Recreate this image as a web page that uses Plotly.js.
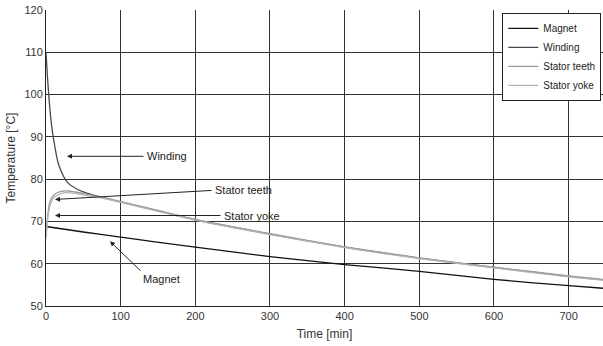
<!DOCTYPE html>
<html><head><meta charset="utf-8">
<script src="https://cdn.plot.ly/plotly-3.0.1.min.js"></script>
<style>html,body{margin:0;padding:0;background:#fff}#c{width:603px;height:346px}</style>
</head><body><div id="c"></div>
<script>
const tMagnet = [0, 50, 100, 200, 300, 400, 500, 600, 700, 746];
const magnet  = [68.8, 67.5, 66.3, 63.9, 61.7, 59.8, 58.2, 56.3, 54.8, 54.2];
const tWinding = [0, 2, 5, 8, 12, 16, 20, 25, 30, 40, 50, 70, 100, 150, 200, 300, 400, 500, 600, 700, 746];
const winding  = [110, 104, 97, 92, 87.5, 84, 82, 80.2, 79, 77.8, 77, 75.9, 74.6, 72.5, 70.4, 67.0, 63.9, 61.3, 59.1, 57.0, 56.2];
const tStator = [0, 2, 5, 10, 20, 30, 50, 75, 100, 150, 200, 300, 400, 500, 600, 700, 746];
const statorTeeth = [66.5, 71, 74.5, 76.2, 77.1, 77.2, 76.6, 75.7, 74.7, 72.6, 70.5, 67.1, 64.0, 61.4, 59.2, 57.1, 56.3];
const statorYoke  = [66.0, 70, 73.5, 75.5, 76.6, 76.8, 76.3, 75.5, 74.5, 72.4, 70.3, 66.9, 63.8, 61.2, 59.0, 56.9, 56.1];
const xTicks = [0, 100, 200, 300, 400, 500, 600, 700];
const yTicks = [50, 60, 70, 80, 90, 100, 110, 120];

const font = {family: 'Liberation Sans, Arial, sans-serif', size: 11, color: '#333'};
const mk = (x, y, name, color) => ({x, y, name, type: 'scatter', mode: 'lines',
  line: {color, width: 1.3, shape: 'spline', smoothing: 0.6}});
const traces = [
  mk(tMagnet, magnet, 'Magnet', '#111'),
  mk(tWinding, winding, 'Winding', '#4a4a4a'),
  mk(tStator, statorTeeth, 'Stator teeth', '#999'),
  mk(tStator, statorYoke, 'Stator yoke', '#b5b5b5')
];

function arrow(x, y, ax, ay) {
  return {x, y, ax, ay, xref: 'x', yref: 'y', axref: 'x', ayref: 'y', text: '',
    showarrow: true, arrowhead: 2, arrowsize: 1, arrowwidth: 1, arrowcolor: '#222', standoff: 0};
}
function label(x, y, text, anchor) {
  return {x, y, xref: 'x', yref: 'y', text, showarrow: false, xanchor: anchor || 'left',
    yanchor: 'middle', font: {family: font.family, size: 11, color: '#222'}};
}
const annotations = [
  arrow(28.1, 85.4, 132.6, 85.4), label(132.6, 85.4, 'Winding'),
  arrow(12.1, 75.2, 223.7, 77.35), label(223.7, 77.35, 'Stator teeth'),
  arrow(12.1, 71.4, 235.7, 71.4), label(235.7, 71.4, 'Stator yoke'),
  arrow(85.7, 65.3, 128.6, 58.0), label(155, 56.3, 'Magnet', 'center')
];

const layout = {
  width: 603, height: 346,
  margin: {l: 46, r: 0, t: 10, b: 40, autoexpand: false},
  paper_bgcolor: '#fff', plot_bgcolor: '#fff',
  font,
  showlegend: true,
  legend: {x: 0.997, y: 0.99, xanchor: 'right', yanchor: 'top', bgcolor: '#fff',
    bordercolor: '#222', borderwidth: 1, font: {family: font.family, size: 10, color: '#222'},
    tracegroupgap: 0, itemwidth: 30},
  xaxis: {range: [0, 746], tickvals: xTicks, ticktext: xTicks.map(String), showgrid: true,
    gridcolor: '#333', gridwidth: 1, zeroline: false, showline: true, linecolor: '#222', linewidth: 1,
    ticks: '', automargin: false, tickfont: font, title: {text: 'Time [min]', font: {family: font.family, size: 12, color: '#333'}, standoff: 8}},
  yaxis: {range: [50, 120], tickvals: yTicks, ticktext: yTicks.map(String), showgrid: true,
    gridcolor: '#333', gridwidth: 1, zeroline: false, showline: true, linecolor: '#222', linewidth: 1,
    ticks: '', automargin: false, tickfont: font, title: {text: 'Temperature [°C]', font: {family: font.family, size: 12, color: '#333'}, standoff: 6}},
  annotations
};
Plotly.newPlot('c', traces, layout, {displayModeBar: false, staticPlot: true});
</script></body></html>
